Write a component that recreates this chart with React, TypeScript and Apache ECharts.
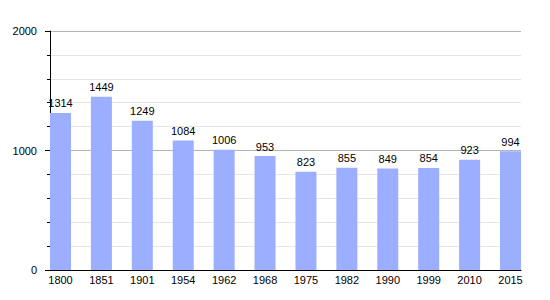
import React, { useEffect, useRef } from "react";
import * as echarts from "echarts";

const years = ["1800", "1851", "1901", "1954", "1962", "1968", "1975", "1982", "1990", "1999", "2010", "2015"];
const population = [1314, 1449, 1249, 1084, 1006, 953, 823, 855, 849, 854, 923, 994];
const yTicks = [0, 1000, 2000];

export default function App() {
  const ref = useRef<HTMLDivElement>(null);
  useEffect(() => {
    if (!ref.current) return;
    const chart = echarts.init(ref.current, null, { renderer: "svg" });
    const barW = 21;
    const plotW = 471;
    const n = years.length;
    const unit = (plotW - barW) / (n - 1);
    const pad = barW / 2 / unit;
    chart.setOption({
      animation: false,
      textStyle: { fontFamily: "Liberation Sans, Arial, sans-serif" },
      grid: { left: 50, right: 29, top: 31, bottom: 30 },
      xAxis: {
        type: "value",
        min: -pad,
        max: n - 1 + pad,
        axisLine: { show: true, onZero: false, lineStyle: { color: "#000", width: 1 } },
        axisTick: { show: false },
        splitLine: { show: false },
        axisLabel: {
          customValues: years.map((_, i) => i),
          formatter: (v: number) => years[Math.round(v)] ?? "",
          color: "#000",
          fontSize: 11,
          margin: 4,
        },
      },
      yAxis: {
        type: "value",
        min: yTicks[0],
        max: yTicks[yTicks.length - 1],
        interval: 1000,
        axisLine: { show: true, onZero: false, lineStyle: { color: "#000", width: 1 } },
        axisTick: { show: true, length: 5, lineStyle: { color: "#000" } },
        minorTick: { show: true, splitNumber: 5, length: 3, lineStyle: { color: "#000" } },
        splitLine: { show: true, lineStyle: { color: "#b4b4b4", width: 1 } },
        minorSplitLine: { show: true, lineStyle: { color: "#e6e6e6", width: 1 } },
        axisLabel: { color: "#000", fontSize: 11, margin: 13, formatter: (v: number) => String(v) },
      },
      series: [
        {
          type: "bar",
          data: population.map((v, i) => [i, v]),
          barWidth: barW,
          itemStyle: { color: "#9caeff" },
          label: { show: true, position: "top", color: "#000", fontSize: 11, distance: 4 },
        },
      ],
    });
    return () => chart.dispose();
  }, []);
  return <div ref={ref} style={{ width: 550, height: 300, position: "absolute", left: 0, top: 0, background: "#fff" }} />;
}
